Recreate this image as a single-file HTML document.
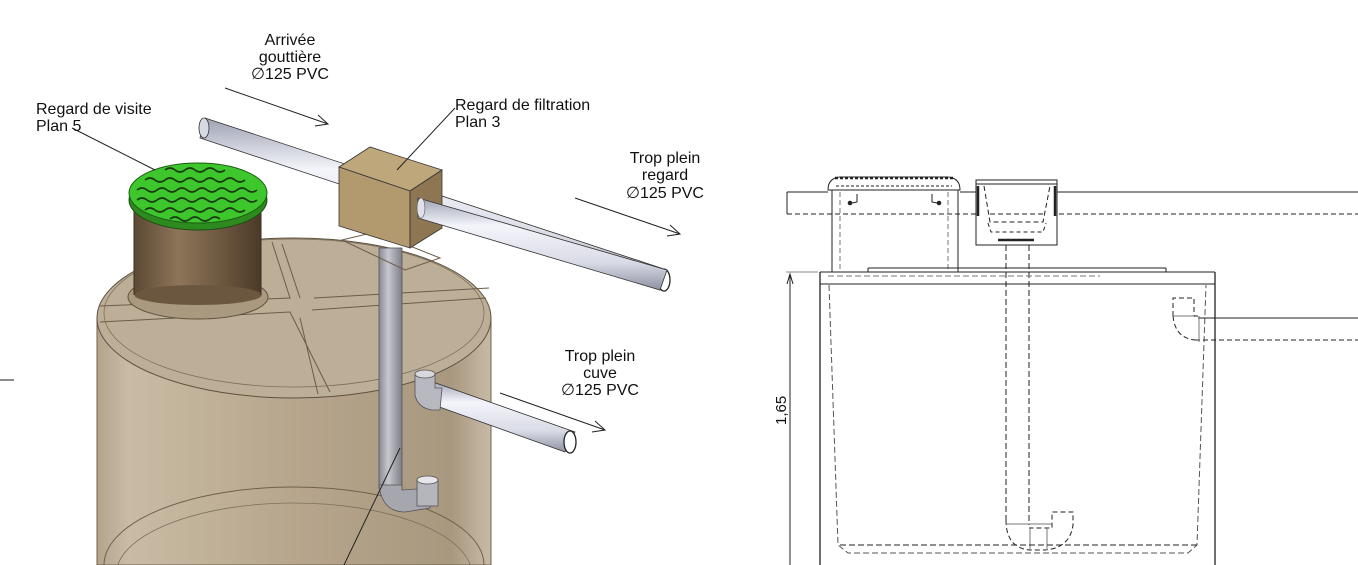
<!DOCTYPE html>
<html><head><meta charset="utf-8"><style>
html,body{margin:0;padding:0;background:#fff;width:1358px;height:565px;overflow:hidden;}
svg{display:block;}
text{font-family:"Liberation Sans",sans-serif;font-size:16px;fill:#111;}
</style></head><body>
<svg width="1358" height="565" viewBox="0 0 1358 565" xmlns="http://www.w3.org/2000/svg">
<defs>
<linearGradient id="tank" x1="0" x2="1" y1="0" y2="0">
<stop offset="0" stop-color="#b3a48c"/><stop offset="0.08" stop-color="#c9bba4"/><stop offset="0.5" stop-color="#b7a68d"/><stop offset="0.9" stop-color="#a8987f"/><stop offset="1" stop-color="#c8bba6"/>
</linearGradient>
<linearGradient id="man" x1="0" x2="1"><stop offset="0" stop-color="#5c4934"/><stop offset="0.35" stop-color="#8d7559"/><stop offset="0.7" stop-color="#6b563f"/><stop offset="1" stop-color="#4b3a28"/></linearGradient>
<linearGradient id="pipe" x1="0" x2="0" y1="0" y2="1"><stop offset="0" stop-color="#9ea2b3"/><stop offset="0.3" stop-color="#f4f5fb"/><stop offset="0.7" stop-color="#d9dbe6"/><stop offset="1" stop-color="#8e92a2"/></linearGradient>
<linearGradient id="vpipe" x1="0" x2="1"><stop offset="0" stop-color="#8a8a92"/><stop offset="0.4" stop-color="#c7c7cf"/><stop offset="1" stop-color="#7e7e88"/></linearGradient>
</defs>

<!-- LEFT 3D -->
<line x1="0" y1="380" x2="14" y2="380" stroke="#666" stroke-width="1.5"/>
<path d="M97,318 L97,565 L491,565 L491,318 Z" fill="url(#tank)" stroke="#6e604c" stroke-width="1"/>
<ellipse cx="294" cy="318" rx="197" ry="80" fill="#bcae97" stroke="#5e5140" stroke-width="1"/>
<ellipse cx="294" cy="313" rx="190" ry="74" fill="none" stroke="#7d705b" stroke-width="0.8"/>
<path d="M100,306 L290,298 L272,242 M100,322 L290,312 L330,392 M312,310 L486,298 M300,298 L282,244 M314,298 L489,288" fill="none" stroke="#6a5d49" stroke-width="1"/>
<path d="M300,318 L318,394" stroke="#6a5d49" fill="none"/>
<ellipse cx="294" cy="565" rx="190" ry="78" fill="none" stroke="#6e604c" stroke-width="1"/>
<ellipse cx="294" cy="575" rx="178" ry="72" fill="none" stroke="#7d705b" stroke-width="0.8"/>
<!-- manhole -->
<ellipse cx="198" cy="297" rx="70" ry="22" fill="#a9997f" stroke="#5d503d"/>
<rect x="134" y="195" width="127" height="100" fill="url(#man)"/>
<ellipse cx="198" cy="295" rx="63.5" ry="10" fill="#6b563f"/>
<line x1="134" y1="195" x2="134" y2="295" stroke="#3a2d20"/>
<line x1="261" y1="195" x2="261" y2="295" stroke="#3a2d20"/>
<ellipse cx="198" cy="200" rx="69" ry="30" fill="#2c8a1f" stroke="#1d4d14"/>
<ellipse cx="198" cy="193" rx="69" ry="30" fill="#3ec72d" stroke="#1d5a14"/>
<g stroke="#1b3a12" stroke-width="1.6" fill="none">
<path d="M145,180 q5,-4 10,0 t10,0 t10,0 t10,0 t10,0 t10,0 t10,0 t10,0 t10,0 t10,0"/>
<path d="M137,190 q5,-4 10,0 t10,0 t10,0 t10,0 t10,0 t10,0 t10,0 t10,0 t10,0 t10,0 t10,0 t10,0"/>
<path d="M137,200 q5,-4 10,0 t10,0 t10,0 t10,0 t10,0 t10,0 t10,0 t10,0 t10,0 t10,0 t10,0 t10,0"/>
<path d="M145,210 q5,-4 10,0 t10,0 t10,0 t10,0 t10,0 t10,0 t10,0 t10,0 t10,0 t10,0"/>
<path d="M165,170 q5,-4 10,0 t10,0 t10,0 t10,0 t10,0 t10,0"/>
<path d="M170,219 q5,-4 10,0 t10,0 t10,0 t10,0 t10,0"/>
</g>
<!-- vertical pipe -->
<rect x="379" y="248" width="23" height="240" fill="url(#vpipe)" stroke="#555" stroke-width="0.8"/>
<path d="M379,485 Q382,512 405,512 L430,508 L430,488 L402,490 L402,485 Z" fill="#a6a6ae" stroke="#555" stroke-width="0.8"/>
<rect x="417" y="480" width="21" height="26" fill="#b5b5bd" stroke="#555" stroke-width="0.8"/>
<ellipse cx="427.5" cy="480" rx="10.5" ry="4" fill="#e5e5ea" stroke="#555" stroke-width="0.8"/>
<path d="M342,240 L375,232 L440,258 L405,270 Z" fill="none" stroke="#6a5d49"/>
<!-- overflow cuve -->
<path d="M420,400 L565,452 L575,432 L430,381 Z" fill="url(#pipe)" stroke="#333" stroke-width="0.8"/>
<ellipse cx="570" cy="442" rx="6" ry="11" fill="#fff" stroke="#222" stroke-width="1.3"/>
<path d="M415,375 L415,395 Q418,408 432,410 L440,410 L442,388 L435,388 L435,375 Z" fill="#b8b8c0" stroke="#555" stroke-width="0.8"/>
<ellipse cx="425" cy="374" rx="10" ry="4" fill="#d8d8de" stroke="#555" stroke-width="0.8"/>
<!-- main top pipe -->
<path d="M205,118 L667,270 L660,290 L200,138 Z" fill="url(#pipe)" stroke="#333" stroke-width="0.8"/>
<ellipse cx="204" cy="128" rx="5" ry="10" fill="#d7d9e3" stroke="#333" stroke-width="0.8"/>
<ellipse cx="664" cy="280" rx="6" ry="11" fill="#fff" stroke="#222" stroke-width="1.3"/>
<!-- filtration box -->
<path d="M339,167 L370,147 L442,170 L410,191 Z" fill="#bfa77c" stroke="#333" stroke-width="0.8"/>
<path d="M339,167 L410,191 L410,248 L339,226 Z" fill="#b39a6e" stroke="#333" stroke-width="0.8"/>
<path d="M410,191 L442,170 L442,228 L410,248 Z" fill="#8e7652" stroke="#333" stroke-width="0.8"/>
<path d="M418,198 L667,270 L660,290 L418,218 Z" fill="url(#pipe)" stroke="#333" stroke-width="0.8"/>
<ellipse cx="421" cy="208" rx="4" ry="10" fill="#dfe1ea" stroke="#555" stroke-width="0.6"/>

<g stroke="#222" stroke-width="1" fill="none">
<line x1="72" y1="128" x2="155" y2="170"/>
<line x1="455" y1="108" x2="397" y2="170"/>
<line x1="400" y1="448" x2="344" y2="565"/>
<line x1="225" y1="88" x2="328" y2="124"/><path d="M318,115 L328,124 L315,126"/>
<line x1="575" y1="198" x2="680" y2="234"/><path d="M670,225 L680,234 L667,236"/>
<line x1="500" y1="393" x2="605" y2="430"/><path d="M595,421 L605,430 L592,432"/>
</g>
<text x="290" y="45" text-anchor="middle">Arrivée</text>
<text x="290" y="62" text-anchor="middle">gouttière</text>
<text x="290" y="79" text-anchor="middle">∅125 PVC</text>
<text x="36" y="114">Regard de visite</text>
<text x="36" y="131">Plan 5</text>
<text x="455" y="110">Regard de filtration</text>
<text x="455" y="127">Plan 3</text>
<text x="665" y="163" text-anchor="middle">Trop plein</text>
<text x="665" y="180" text-anchor="middle">regard</text>
<text x="665" y="198" text-anchor="middle">∅125 PVC</text>
<text x="600" y="361" text-anchor="middle">Trop plein</text>
<text x="600" y="378" text-anchor="middle">cuve</text>
<text x="600" y="395" text-anchor="middle">∅125 PVC</text>

<!-- RIGHT 2D -->
<g stroke="#222" stroke-width="1" fill="none">
<line x1="787" y1="192" x2="828" y2="192"/><line x1="960" y1="192" x2="976" y2="192"/><line x1="1057" y1="192" x2="1358" y2="192"/>
<line x1="787" y1="192" x2="787" y2="214"/>
<line x1="787" y1="214" x2="1358" y2="214" stroke-dasharray="5,3"/>
<path d="M828,190 Q828,178 840,177 L948,177 Q960,178 960,190 Z" fill="#fff"/>
<path d="M835,178 L953,178" stroke-width="2.5" stroke-dasharray="3,2"/>
<path d="M836,186 L952,186" stroke-dasharray="3,2"/>
<line x1="832" y1="190" x2="832" y2="272"/><line x1="958" y1="190" x2="958" y2="272"/>
<line x1="840" y1="192" x2="840" y2="272" stroke-dasharray="5,3" stroke="#777"/><line x1="948" y1="192" x2="948" y2="272" stroke-dasharray="5,3" stroke="#777"/>
<path d="M857,194 L857,202 L852,203" /><circle cx="850" cy="203" r="1.8" fill="#222"/>
<path d="M932,194 L932,202 L937,203"/><circle cx="939" cy="203" r="1.8" fill="#222"/>
<rect x="976" y="180" width="81" height="65" fill="#fff"/>
<line x1="976" y1="184" x2="1057" y2="184"/>
<path d="M984,186 L990,222 L1043,222 L1050,186" stroke-dasharray="5,3"/>
<line x1="990" y1="214" x2="1045" y2="214" stroke-dasharray="5,3"/>
<path d="M988,223 L991,232 L1043,232 L1046,223" stroke-dasharray="4,3"/>
<line x1="978" y1="186" x2="978" y2="216" stroke-width="2.5"/><line x1="1055" y1="186" x2="1055" y2="216" stroke-width="2.5"/>
<line x1="998" y1="240" x2="1034" y2="240" stroke-width="2.5"/>
<line x1="1006" y1="245" x2="1006" y2="520" stroke-dasharray="6,3"/>
<line x1="1029" y1="245" x2="1029" y2="525" stroke-dasharray="6,3"/>
<path d="M1006,520 Q1006,548 1030,550 L1045,550 Q1070,548 1073,525 L1073,512 L1052,512 L1052,528 L1029,528" stroke-dasharray="5,3"/>
<line x1="1006" y1="524" x2="1052" y2="524" stroke="#777"/>
<line x1="1030" y1="528" x2="1030" y2="550" stroke="#777"/><line x1="1047" y1="528" x2="1047" y2="550" stroke="#777"/>
<line x1="868" y1="268" x2="1166" y2="268"/><line x1="868" y1="268" x2="868" y2="272"/><line x1="1166" y1="268" x2="1166" y2="272"/>
<line x1="820" y1="272" x2="1215" y2="272"/>
<line x1="820" y1="284" x2="1215" y2="284"/>
<line x1="820" y1="272" x2="820" y2="565" stroke-width="1.3"/>
<line x1="1215" y1="272" x2="1215" y2="565" stroke-width="1.3"/>
<path d="M829,285 L838,545 L848,553 L1188,553 L1197,545 L1206,285" stroke-dasharray="6,3" stroke="#555"/>
<line x1="840" y1="545" x2="1197" y2="545" stroke-dasharray="6,3"/>
<line x1="828" y1="276" x2="1100" y2="276" stroke-dasharray="6,3" stroke="#777"/>
<path d="M1173,316 L1173,298 L1194,298 L1194,316 L1198,316" stroke-dasharray="5,3"/>
<path d="M1173,316 Q1175,338 1195,340" stroke-dasharray="5,3"/>
<line x1="1173" y1="316" x2="1194" y2="316" stroke="#777"/>
<line x1="1198" y1="318" x2="1358" y2="318"/>
<line x1="1195" y1="340" x2="1358" y2="340" stroke-dasharray="5,3"/>
<line x1="1199" y1="316" x2="1199" y2="342" stroke="#777"/>
<line x1="790" y1="274" x2="790" y2="565"/>
<path d="M787,284 L790,274 L793,284"/>
<line x1="786" y1="272" x2="818" y2="272" stroke="#888"/>
</g>
<text x="0" y="0" transform="translate(786,425) rotate(-90)" style="font-size:15px">1,65</text>
</svg>
</body></html>
